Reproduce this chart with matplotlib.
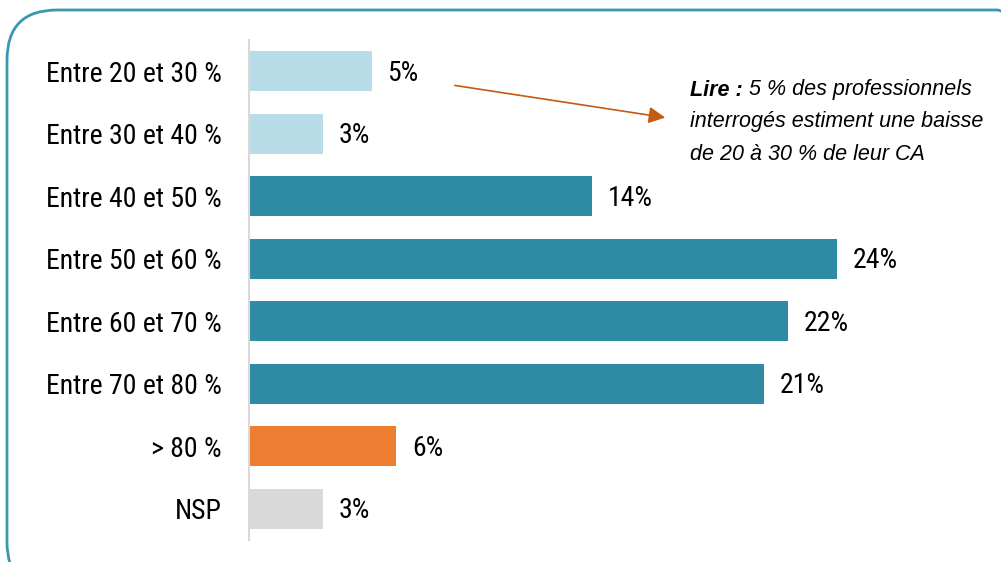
import matplotlib.pyplot as plt
from matplotlib.patches import FancyBboxPatch

# categories and values (%)
categories = ['Entre 20 et 30 %', 'Entre 30 et 40 %', 'Entre 40 et 50 %', 'Entre 50 et 60 %',
              'Entre 60 et 70 %', 'Entre 70 et 80 %', '> 80 %', 'NSP']
values = [5, 3, 14, 24, 22, 21, 6, 3]
colors = ['#b8dde8', '#b8dde8', '#2e8ba3', '#2e8ba3', '#2e8ba3', '#2e8ba3', '#ed7d31', '#d9d9d9']

plt.rcParams['font.family'] = ['Roboto Condensed', 'Archivo Narrow', 'PT Sans Narrow', 'Liberation Sans', 'DejaVu Sans']
note_font = ['Liberation Sans', 'DejaVu Sans']

W, H = 1001, 562
fig = plt.figure(figsize=(W / 100, H / 100), dpi=100)

# rounded frame, cut off at right and bottom
frame = FancyBboxPatch((7 / W, -30 / H), 1040 / W, (H - 10 + 30) / H,
                       boxstyle='round,pad=0,rounding_size=0.05',
                       transform=fig.transFigure, facecolor='none',
                       edgecolor='#3a97b0', linewidth=2, mutation_aspect=W / H)
fig.patches.append(frame)

ax = fig.add_axes([249 / W, 22 / H, (W - 249) / W, 500 / H])
ypos = list(range(len(categories)))
ax.barh(ypos, values, height=0.64, color=colors)
ax.set_ylim(7.5, -0.5)
ax.set_xlim(0, (W - 249) / 24.5)
ax.set_yticks(ypos)
ax.set_yticklabels(categories, fontsize=20)
ax.tick_params(axis='y', length=0, pad=19.5)
ax.set_xticks([])
for s in ['top', 'right', 'bottom']:
    ax.spines[s].set_visible(False)
ax.spines['left'].set_color('#d9d9d9')
ax.spines['left'].set_linewidth(1.5)

for y, v in zip(ypos, values):
    ax.annotate('{0}%'.format(v), (v, y), xytext=(16, -2), textcoords='offset pixels',
                va='center', ha='left', fontsize=20)

# reading note with arrow
ax.annotate('', xy=(668 / W, 1 - 118 / H), xytext=(452 / W, 1 - 85 / H),
            xycoords='figure fraction', textcoords='figure fraction',
            arrowprops=dict(arrowstyle='-|>,head_length=1.0,head_width=0.5',
                            color='#c55a11', lw=1.2))
lire = fig.text(690 / W, 1 - 90 / H, 'Lire : ', fontsize=15.5, style='italic', weight='bold',
                family=note_font, va='center')
fig.canvas.draw()
x1 = lire.get_window_extent().x1
fig.text(x1 / W, 1 - 90 / H, '5 % des professionnels', fontsize=15.5, style='italic',
         family=note_font, va='center')
fig.text(690 / W, 1 - 122 / H, 'interrogés estiment une baisse', fontsize=15.5, style='italic',
         family=note_font, va='center')
fig.text(690 / W, 1 - 154 / H, 'de 20 à 30 % de leur CA', fontsize=15.5, style='italic',
         family=note_font, va='center')

fig.savefig('out.png', dpi=100)
